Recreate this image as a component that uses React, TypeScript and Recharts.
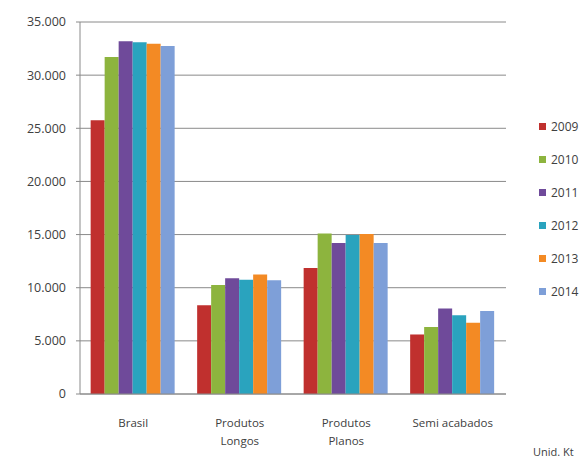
import React from 'react';
import { BarChart, Bar, XAxis, YAxis, CartesianGrid } from 'recharts';

const categories = ['Brasil', 'Produtos Longos', 'Produtos Planos', 'Semi acabados'];
const years = ['2009', '2010', '2011', '2012', '2013', '2014'];
const v2009 = [25750, 8350, 11850, 5600];
const v2010 = [31700, 10250, 15100, 6300];
const v2011 = [33200, 10900, 14200, 8050];
const v2012 = [33100, 10750, 14950, 7400];
const v2013 = [32950, 11250, 15050, 6700];
const v2014 = [32750, 10700, 14200, 7800];
const yTicks = [0, 5000, 10000, 15000, 20000, 25000, 30000, 35000];

const colors = ['#C0302E', '#8DB43E', '#6F4A9A', '#2AA3BE', '#F38A24', '#7E9FD8'];
const series = [v2009, v2010, v2011, v2012, v2013, v2014];

const data = categories.map((name, i) => {
  const row: { [key: string]: any } = { name };
  years.forEach((y, j) => {
    row[y] = series[j][i];
  });
  return row;
});

const fmt = (v: number) => v.toString().replace(/\B(?=(\d{3})+(?!\d))/g, '.');

const font = '"Open Sans", "Noto Sans", sans-serif';

const CategoryTick = ({ x, y, payload }: any) => {
  const lines = payload.value === 'Semi acabados' ? [payload.value] : String(payload.value).split(' ');
  return (
    <g transform={`translate(${x},${y})`}>
      {lines.map((l: string, i: number) => (
        <text
          key={i}
          x={0}
          y={25 + i * 18}
          textAnchor="middle"
          fill="#404040"
          fontSize={11.5}
          fontFamily={font}
        >
          {l}
        </text>
      ))}
    </g>
  );
};

const LegendBox = () => (
  <div
    style={{
      position: 'absolute',
      left: 539,
      top: 110,
      fontFamily: font,
      fontSize: 12,
      color: '#404040',
    }}
  >
    {years.map((y, i) => (
      <div key={y} style={{ display: 'flex', alignItems: 'center', height: 33 }}>
        <span
          style={{ width: 7, height: 7, background: colors[i], marginRight: 5, display: 'inline-block' }}
        />
        {y}
      </div>
    ))}
  </div>
);

export default function App() {
  return (
    <div style={{ position: 'absolute', left: 0, top: 0, width: 588, height: 460, background: '#fff', overflow: 'hidden' }}>
      <BarChart
        width={588}
        height={460}
        data={data}
        margin={{ top: 22, right: 82, bottom: 0, left: 0 }}
        barCategoryGap="10%"
        barGap={0}
      >
        <CartesianGrid vertical={false} stroke="#8a8a8a" />
        <XAxis
          dataKey="name"
          height={66}
          tick={<CategoryTick />}
          tickLine={false}
          axisLine={{ stroke: '#8a8a8a' }}
          interval={0}
        />
        <YAxis
          width={80}
          domain={[0, 35000]}
          ticks={yTicks}
          tickFormatter={fmt}
          tick={{ fill: '#404040', fontSize: 12.5, fontFamily: font }}
          tickLine={{ stroke: '#8a8a8a' }}
          tickSize={4}
          tickMargin={10}
          axisLine={{ stroke: '#8a8a8a' }}
        />
        {years.map((y, i) => (
          <Bar key={y} dataKey={y} fill={colors[i]} isAnimationActive={false} />
        ))}
      </BarChart>
      <LegendBox />
      <div
        style={{
          position: 'absolute',
          left: 533,
          top: 444,
          fontFamily: font,
          fontSize: 11,
          color: '#404040',
          whiteSpace: 'nowrap',
        }}
      >
        Unid. Kt
      </div>
    </div>
  );
}
